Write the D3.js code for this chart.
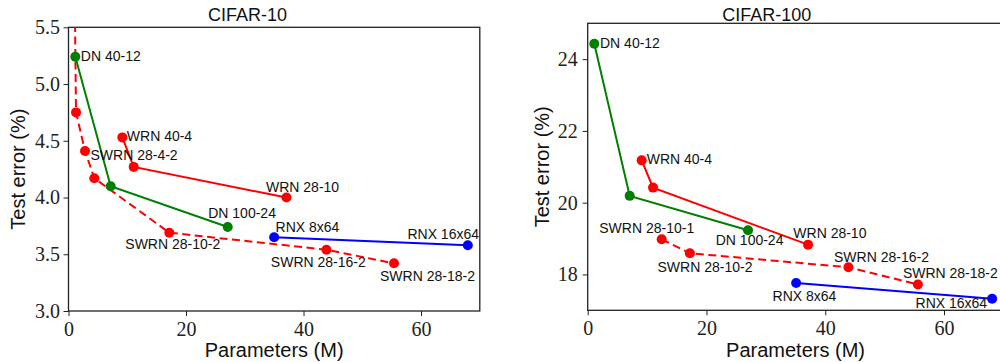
<!DOCTYPE html>
<html>
<head>
<meta charset="utf-8">
<script src="https://cdn.jsdelivr.net/npm/d3@7"></script>
<style>
  body { margin: 0; background: #fff; }
  svg { display: block; }
  .tick text { font-family: "Liberation Serif", "Times New Roman", serif; font-size: 20px; fill: #222; }
  .lbl { font-family: "Liberation Sans", Arial, sans-serif; font-size: 14px; fill: #111; }
  .ttl { font-family: "Liberation Sans", Arial, sans-serif; font-size: 18px; fill: #111; }
  .axl { font-family: "Liberation Sans", Arial, sans-serif; font-size: 20px; fill: #111; }
</style>
</head>
<body>
<svg id="chart" width="1000" height="362"></svg>
<script>
// CIFAR-10 values (params in M, test error in %)
const c10DnParams = [1.16, 7.18, 27.1];
const c10DnErr = [5.24, 4.10, 3.74];
const c10DnNames = ["DN 40-12", "", "DN 100-24"];

const c10WrnParams = [9.16, 11.1, 37.1];
const c10WrnErr = [4.53, 4.27, 4.00];
const c10WrnNames = ["WRN 40-4", "", "WRN 28-10"];

const c10SwrnParams = [0.95, 1.28, 2.81, 4.39, 17.16, 43.9, 55.4];
const c10SwrnErr = [6.3, 4.75, 4.41, 4.17, 3.69, 3.54, 3.42];
const c10SwrnNames = ["", "", "SWRN 28-4-2", "", "SWRN 28-10-2", "SWRN 28-16-2", "SWRN 28-18-2"];

const c10RnxParams = [35.0, 67.96];
const c10RnxErr = [3.65, 3.58];
const c10RnxNames = ["RNX 8x64", "RNX 16x64"];

// CIFAR-100 values
const c100DnParams = [1.11, 7.07, 27.0];
const c100DnErr = [24.43, 20.19, 19.23];
const c100DnNames = ["DN 40-12", "", "DN 100-24"];

const c100WrnParams = [9.09, 11.0, 37.1];
const c100WrnErr = [21.18, 20.42, 18.83];
const c100WrnNames = ["WRN 40-4", "", "WRN 28-10"];

const c100SwrnParams = [12.46, 17.2, 43.9, 55.6];
const c100SwrnErr = [18.98, 18.59, 18.20, 17.72];
const c100SwrnNames = ["SWRN 28-10-1", "SWRN 28-10-2", "SWRN 28-16-2", "SWRN 28-18-2"];

const c100RnxParams = [35.1, 68.1];
const c100RnxErr = [17.76, 17.32];
const c100RnxNames = ["RNX 8x64", "RNX 16x64"];

// tick labels
const xTicks = [0, 20, 40, 60];
const c10YTicks = [3.0, 3.5, 4.0, 4.5, 5.0, 5.5];
const c100YTicks = [18, 20, 22, 24];

// label offsets in px (start of text, baseline) relative to the point
const c10DnOff = [[5.5, 4], null, [-19.5, -8.7]];
const c10WrnOff = [[4.5, 4], null, [-20.5, -6]];
const c10SwrnOff = [null, null, [5.5, 8.6], null, [-44, 16], [-55.6, 17], [-14, 17.4]];
const c10RnxOff = [[1.4, -5], [-60.4, -6]];
const c100DnOff = [[5.7, 4.3], null, [-32.3, 14.7]];
const c100WrnOff = [[5, 3.7], null, [-14.7, -6.4]];
const c100SwrnOff = [[-62.4, -6], [-32.3, 18.4], [-14.4, -5.6], [-15, -6.4]];
const c100RnxOff = [[-23.6, 17.7], [-76.6, 9.3]];

const svg = d3.select("#chart");

function makeSeries(params, errs, names, offs, color, dashed) {
    return params.map((p, i) => ({ p: p, e: errs[i], name: names[i], off: offs[i] }))
        .reduce((acc, d) => { acc.pts.push(d); return acc; }, { pts: [], color: color, dashed: dashed });
}

function drawPanel(opt) {
    const x = d3.scaleLinear().domain([0, 70]).range([opt.left, opt.right]);
    const y = d3.scaleLinear().domain(opt.yDomain).range([opt.bottom, opt.top]);

    const clipId = "clip-" + opt.id;
    svg.append("clipPath").attr("id", clipId)
        .append("rect")
        .attr("x", opt.left).attr("y", opt.top)
        .attr("width", opt.right - opt.left).attr("height", opt.bottom - opt.top);

    // axes
    const xAxis = svg.append("g")
        .attr("transform", `translate(0,${opt.bottom})`)
        .call(d3.axisBottom(x).tickValues(xTicks).tickSize(5).tickPadding(5.5).tickFormat(d3.format("d")));
    const yAxis = svg.append("g")
        .attr("transform", `translate(${opt.left},0)`)
        .call(d3.axisLeft(y).tickValues(opt.yTicks).tickSize(5).tickPadding(opt.yPad).tickFormat(opt.yFormat));
    [xAxis, yAxis].forEach(a => {
        a.select(".domain").remove();
        a.selectAll(".tick line").attr("stroke", "#222").attr("stroke-width", 1);
    });

    // spines
    svg.append("rect")
        .attr("x", opt.left).attr("y", opt.top)
        .attr("width", opt.right - opt.left).attr("height", opt.bottom - opt.top)
        .attr("fill", "none").attr("stroke", "#222").attr("stroke-width", 1.3);

    const plot = svg.append("g").attr("clip-path", `url(#${clipId})`);
    const line = d3.line().x(d => x(d.p)).y(d => y(d.e));

    opt.series.forEach(s => {
        plot.append("path")
            .datum(s.pts)
            .attr("d", line)
            .attr("fill", "none")
            .attr("stroke", s.color)
            .attr("stroke-width", 2)
            .attr("stroke-dasharray", s.dashed ? "8,4.5" : null);
        plot.selectAll(null)
            .data(s.pts)
            .enter()
            .append("circle")
            .attr("cx", d => x(d.p))
            .attr("cy", d => y(d.e))
            .attr("r", 5)
            .attr("fill", s.color);
    });

    opt.series.forEach(s => {
        s.pts.filter(d => d.name).forEach(d => {
            svg.append("text")
                .attr("class", "lbl")
                .attr("x", x(d.p) + d.off[0])
                .attr("y", y(d.e) + d.off[1])
                .text(d.name);
        });
    });

    // title and axis labels
    svg.append("text").attr("class", "ttl")
        .attr("x", opt.left + 179).attr("y", 21)
        .attr("text-anchor", "middle")
        .text(opt.title);
    svg.append("text").attr("class", "axl")
        .attr("x", (opt.left + opt.right) / 2).attr("y", 357)
        .attr("text-anchor", "middle")
        .text("Parameters (M)");
    svg.append("text").attr("class", "axl")
        .attr("transform", `translate(${opt.yLabelX},${(opt.top + opt.bottom) / 2}) rotate(-90)`)
        .attr("text-anchor", "middle")
        .text("Test error (%)");
}

drawPanel({
    id: "c10", title: "CIFAR-10",
    left: 68.5, right: 479.8, top: 27.3, bottom: 311,
    yDomain: [3.0, 5.5], yTicks: c10YTicks, yFormat: d3.format(".1f"), yPad: 3.5,
    yLabelX: 25,
    series: [
        makeSeries(c10SwrnParams, c10SwrnErr, c10SwrnNames, c10SwrnOff, "#ff0000", true),
        makeSeries(c10DnParams, c10DnErr, c10DnNames, c10DnOff, "#008000", false),
        makeSeries(c10WrnParams, c10WrnErr, c10WrnNames, c10WrnOff, "#ff0000", false),
        makeSeries(c10RnxParams, c10RnxErr, c10RnxNames, c10RnxOff, "#0000ff", false)
    ]
});

drawPanel({
    id: "c100", title: "CIFAR-100",
    left: 587.7, right: 1003.4, top: 23.3, bottom: 310.3,
    yDomain: [17, 25], yTicks: c100YTicks, yFormat: d3.format("d"), yPad: 5,
    yLabelX: 548.5,
    series: [
        makeSeries(c100SwrnParams, c100SwrnErr, c100SwrnNames, c100SwrnOff, "#ff0000", true),
        makeSeries(c100DnParams, c100DnErr, c100DnNames, c100DnOff, "#008000", false),
        makeSeries(c100WrnParams, c100WrnErr, c100WrnNames, c100WrnOff, "#ff0000", false),
        makeSeries(c100RnxParams, c100RnxErr, c100RnxNames, c100RnxOff, "#0000ff", false)
    ]
});
</script>
</body>
</html>
